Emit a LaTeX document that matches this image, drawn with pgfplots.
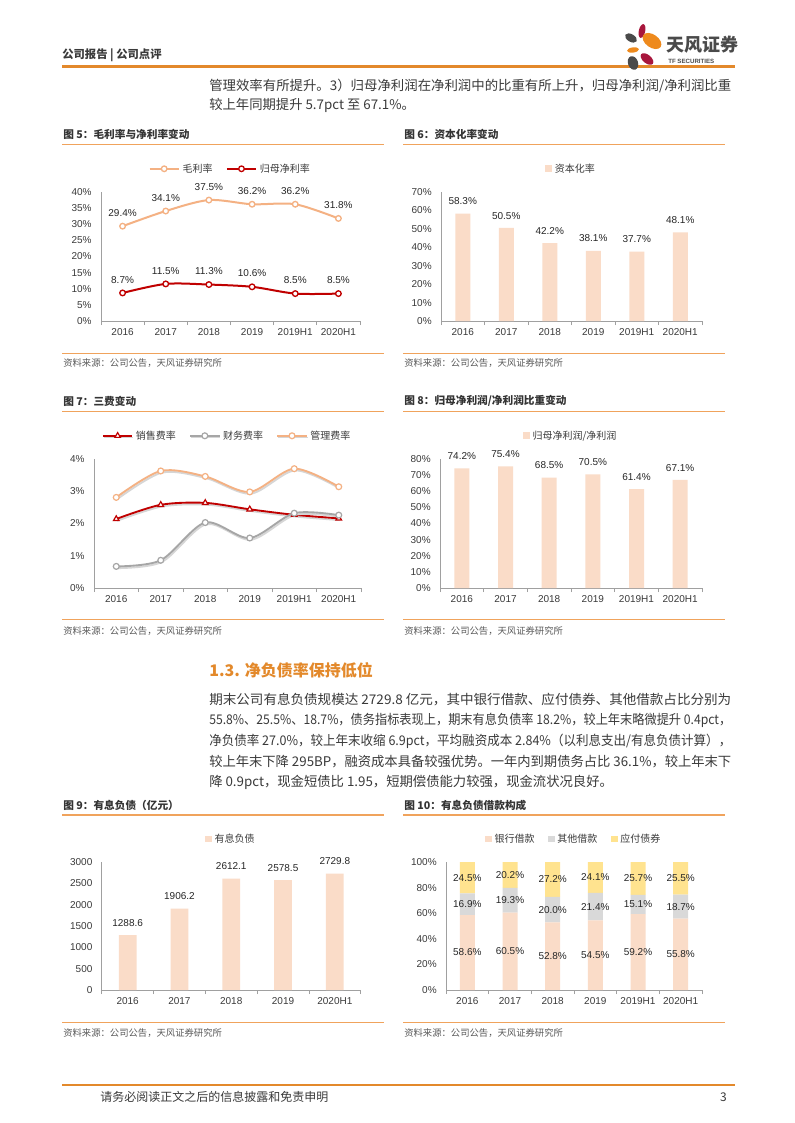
\documentclass[border=0pt]{standalone}
\usepackage{pgfplots}
\pgfplotsset{compat=1.18}
\usepackage{pgfplotstable}
\usepackage{graphicx}
\usepackage{fontspec}
\setmainfont{Noto Sans CJK SC}
\newfontfamily\arial{Liberation Sans}
\XeTeXlinebreaklocale "zh"
\XeTeXlinebreakskip=0pt plus 1pt

\definecolor{tfo}{HTML}{E3892B}
\definecolor{rulec}{HTML}{F0A35C}
\definecolor{peach}{HTML}{FADCC8}
\definecolor{lorange}{HTML}{F4B183}
\definecolor{dred}{HTML}{C00000}
\definecolor{mgray}{HTML}{A6A6A6}
\definecolor{lgray}{HTML}{D9D9D9}
\definecolor{ygold}{HTML}{FFE38F}
\definecolor{body}{HTML}{3A3A3A}
\definecolor{lbl}{HTML}{262626}
\definecolor{src}{HTML}{595959}
\definecolor{axc}{HTML}{A0A0A0}
\definecolor{petred}{HTML}{A8163C}
\definecolor{petgray}{HTML}{4A4A4A}
\definecolor{petor}{HTML}{EE8A1D}

\newcommand\tk{\arial\fontsize{7.5bp}{9bp}\selectfont}
\newcommand\lgf{\fontsize{7.5bp}{9bp}\selectfont}
\newcommand\bodyf{\fontsize{10bp}{12bp}\selectfont}
\newcommand\titf{\bfseries\fontsize{8bp}{10bp}\selectfont}
\newcommand\srcf{\fontsize{7bp}{8bp}\selectfont}

\newlength\jl
\newcommand\jline[1]{\settowidth\jl{#1}\edef\jsc{\fpeval{391.5bp/\jl}}\scalebox{\jsc}[1]{#1}}

\pgfplotsset{
  tfax/.style={
    scale only axis, clip=false,
    axis x line*=bottom, axis y line*=left,
    axis line style={draw=axc, line width=0.6bp, -},
    ymin=0, major tick length=0pt,
    tick label style={font=\tk, text=body},
    /pgf/number format/assume math mode=true,
    x tick label style={yshift=-2bp},
    y tick label style={xshift=-3.5bp},
    legend style={draw=none, fill=none, font=\lgf, text=body,
      legend columns=-1, at={(0.5,1.18)}, anchor=center,
      /tikz/every even column/.append style={column sep=8bp}},
  },
  seps/.style={extra x ticks={#1}, extra x tick labels={},
    extra x tick style={major tick length=3bp, tick align=outside,
      tick style={draw=axc, line width=0.6bp}}},
  sqlegend/.style={legend image code/.code={\fill[##1] (0bp,-2.6bp) rectangle (5.2bp,2.6bp);}},
  lnlegend/.style={legend image code/.code={\draw[mark repeat=2,mark phase=2,##1] plot coordinates {(0bp,0bp)(11bp,0bp)(22bp,0bp)};}},
  pctlabels/.style={nodes near coords={\pgfmathprintnumber[fixed,fixed zerofill,precision=1]{\pgfplotspointmeta}\%},
    every node near coord/.append style={font=\tk, text=lbl, yshift=#1}},
  shadowed/.style={preaction={draw=black!16, line width=1.4bp, transform canvas={shift={(0.7bp,-1.3bp)}}}},
}

\pgfplotstableread{
x bank other bond
0 58.6 16.9 24.5
1 60.5 19.3 20.2
2 52.8 20.0 27.2
3 54.5 21.4 24.1
4 59.2 15.1 25.7
5 55.8 18.7 25.5
}\tabten

\begin{document}
\begin{tikzpicture}[x=0.75bp,y=-0.75bp]
\useasboundingbox (0,0) rectangle (794,1123);
\fill[white] (0,0) rectangle (794,1123);

% ---- header
\node[anchor=west,inner sep=0,text=body,font=\bfseries\fontsize{8.5bp}{10bp}\selectfont] at (62,55) {公司报告 | 公司点评};
\draw[tfo,line width=1.6bp] (62,66.5) -- (735,66.5);
% logo
\fill[petred,rotate around={-12:(642,31)}] (642,31) ellipse [x radius=3.2,y radius=7];
\fill[petgray,rotate around={-30:(631,38)}] (631,38) ellipse [x radius=6.5,y radius=3.8];
\fill[petor,rotate around={-35:(652,41)}] (652,41) ellipse [x radius=10.5,y radius=6.5];
\fill[petor,rotate around={8:(633,50)}] (633,50) ellipse [x radius=6,y radius=2.6];
\fill[petred,rotate around={-40:(647,59)}] (647,59) ellipse [x radius=7.5,y radius=4.2];
\fill[petgray,rotate around={20:(633,63)}] (633,63) ellipse [x radius=5,y radius=7];
\node[anchor=west,inner sep=0,text=petgray,font=\bfseries\fontsize{13.5bp}{15bp}\selectfont] at (666,45) {天风证券};
\node[anchor=west,inner sep=0,text=petgray,font=\arial\bfseries\fontsize{4.6bp}{5bp}\selectfont] at (668,61) {TF SECURITIES};

% ---- top paragraph
\node[anchor=west,inner sep=0,text=body,font=\bodyf] at (209,86) {\jline{管理效率有所提升。3）归母净利润在净利润中的比重有所上升，归母净利润/净利润比重}};
\node[anchor=west,inner sep=0,text=body,font=\bodyf] at (209,105) {较上年同期提升 5.7pct 至 67.1\%。};

% ---- figure titles, rules, sources
\foreach \xa/\xb/\yt/\yr/\yb/\ys/\tt in {
  62/384/134/144.5/353.5/363/{图 5：毛利率与净利率变动},
  403/725/134/144.5/353.5/363/{图 6：资本化率变动},
  62/384/401/411.5/619.5/631/{图 7：三费变动},
  403/725/401/411.5/619.5/631/{图 8：归母净利润/净利润比重变动},
  62/384/805/815/1022.5/1033/{图 9：有息负债（亿元）},
  403/725/805/815/1022.5/1033/{图 10：有息负债借款构成}}{
  \node[anchor=west,inner sep=0,text=body!90!black,font=\titf] at (\xa+1,\yt) {\tt};
  \draw[rulec,line width=0.8bp] (\xa,\yr) -- (\xb,\yr);
  \draw[rulec,line width=0.8bp] (\xa,\yb) -- (\xb,\yb);
  \node[anchor=west,inner sep=0,text=src,font=\srcf] at (\xa+1,\ys) {资料来源：公司公告，天风证券研究所};
}

% ---- section heading and paragraph
\node[anchor=west,inner sep=0,text=tfo,font=\bfseries\fontsize{12bp}{14bp}\selectfont] at (209,670) {1.3. 净负债率保持低位};
\node[anchor=west,inner sep=0,text=body,font=\bodyf] at (209,700) {\jline{期末公司有息负债规模达 2729.8 亿元，其中银行借款、应付债券、其他借款占比分别为}};
\node[anchor=west,inner sep=0,text=body,font=\bodyf] at (209,720.5) {\jline{55.8\%、25.5\%、18.7\%，债务指标表现上，期末有息负债率 18.2\%，较上年末略微提升 0.4pct，}};
\node[anchor=west,inner sep=0,text=body,font=\bodyf] at (209,741) {\jline{净负债率 27.0\%，较上年末收缩 6.9pct，平均融资成本 2.84\%（以利息支出/有息负债计算），}};
\node[anchor=west,inner sep=0,text=body,font=\bodyf] at (209,761.5) {\jline{较上年末下降 295BP，融资成本具备较强优势。一年内到期债务占比 36.1\%，较上年末下}};
\node[anchor=west,inner sep=0,text=body,font=\bodyf] at (209,782) {降 0.9pct，现金短债比 1.95，短期偿债能力较强，现金流状况良好。};

% ---- footer
\draw[tfo,line width=1.6bp] (62,1085) -- (735,1085);
\node[anchor=west,inner sep=0,text=body,font=\fontsize{9bp}{11bp}\selectfont] at (100,1097) {请务必阅读正文之后的信息披露和免责申明};
\node[anchor=east,inner sep=0,text=body,font=\fontsize{9bp}{11bp}\selectfont] at (727,1097) {3};

% ---- chart 5
\begin{axis}[tfax, at={(75.75bp,-240.75bp)}, anchor=south west,
  width=194.25bp, height=96.75bp,
  xmin=-0.5, xmax=5.5, ymax=40, ytick={0,5,...,40},
  yticklabel={\pgfmathprintnumber{\tick}\%},
  xtick={0,...,5}, xticklabels={2016,2017,2018,2019,2019H1,2020H1},
  seps={-0.5,0.5,...,5.5}, lnlegend, pctlabels=3.5bp]
\addplot[lorange, line width=1.5bp, smooth, mark=*, mark size=2.1bp,
  mark options={fill=white, line width=1bp}]
  coordinates {(0,29.4)(1,34.1)(2,37.5)(3,36.2)(4,36.2)(5,31.8)};
\addlegendentry{毛利率}
\addplot[dred, line width=1.5bp, smooth, mark=*, mark size=2.1bp,
  mark options={fill=white, line width=1bp}]
  coordinates {(0,8.7)(1,11.5)(2,11.3)(3,10.6)(4,8.5)(5,8.5)};
\addlegendentry{归母净利率}
\end{axis}

% ---- chart 6
\begin{axis}[tfax, ybar, bar width=11.25bp, at={(330.75bp,-240.75bp)}, anchor=south west,
  width=195.75bp, height=96.75bp,
  xmin=-0.5, xmax=5.5, ymax=70, ytick={0,10,...,70},
  yticklabel={\pgfmathprintnumber{\tick}\%},
  xtick={0,...,5}, xticklabels={2016,2017,2018,2019,2019H1,2020H1},
  seps={-0.5,0.5,...,5.5}, pctlabels=3bp]
\addplot[fill=peach, draw=none, sqlegend]
  coordinates {(0,58.3)(1,50.5)(2,42.2)(3,38.1)(4,37.7)(5,48.1)};
\addlegendentry{资本化率}
\end{axis}

% ---- chart 7
\begin{axis}[tfax, at={(70.5bp,-441bp)}, anchor=south west,
  width=200.25bp, height=96.75bp,
  xmin=-0.5, xmax=5.5, ymax=4, ytick={0,1,...,4},
  yticklabel={\pgfmathprintnumber{\tick}\%},
  xtick={0,...,5}, xticklabels={2016,2017,2018,2019,2019H1,2020H1},
  seps={-0.5,0.5,...,5.5}, lnlegend]
\addplot[dred, line width=1.4bp, smooth, shadowed, mark=triangle*, mark size=2.4bp,
  mark options={fill=white, line width=0.9bp}]
  coordinates {(0,2.14)(1,2.58)(2,2.64)(3,2.44)(4,2.27)(5,2.16)};
\addlegendentry{销售费率}
\addplot[mgray, line width=1.4bp, smooth, shadowed, mark=*, mark size=2.2bp,
  mark options={fill=white, line width=0.9bp}]
  coordinates {(0,0.67)(1,0.86)(2,2.03)(3,1.55)(4,2.32)(5,2.26)};
\addlegendentry{财务费率}
\addplot[lorange, line width=1.4bp, smooth, shadowed, mark=*, mark size=2.2bp,
  mark options={fill=white, line width=0.9bp}]
  coordinates {(0,2.81)(1,3.63)(2,3.46)(3,2.98)(4,3.70)(5,3.14)};
\addlegendentry{管理费率}
\end{axis}

% ---- chart 8
\begin{axis}[tfax, ybar, bar width=11.25bp, at={(330bp,-441bp)}, anchor=south west,
  width=196.5bp, height=96.75bp,
  xmin=-0.5, xmax=5.5, ymax=80, ytick={0,10,...,80},
  yticklabel={\pgfmathprintnumber{\tick}\%},
  xtick={0,...,5}, xticklabels={2016,2017,2018,2019,2019H1,2020H1},
  seps={-0.5,0.5,...,5.5}, pctlabels=3bp]
\addplot[fill=peach, draw=none, sqlegend]
  coordinates {(0,74.2)(1,75.4)(2,68.5)(3,70.5)(4,61.4)(5,67.1)};
\addlegendentry{归母净利润/净利润}
\end{axis}

% ---- chart 9
\begin{axis}[tfax, ybar, bar width=13.3bp, at={(76.3bp,-742.5bp)}, anchor=south west,
  width=194.25bp, height=96bp,
  xmin=-0.5, xmax=4.5, ymax=3000, ytick={0,500,...,3000},
  scaled y ticks=false, /pgf/number format/1000 sep={},
  xtick={0,...,4}, xticklabels={2016,2017,2018,2019,2020H1},
  seps={-0.5,0.5,...,4.5},
  nodes near coords={\pgfmathprintnumber[fixed,fixed zerofill,precision=1,1000 sep={}]{\pgfplotspointmeta}},
  every node near coord/.append style={font=\tk, text=lbl, yshift=3bp}]
\addplot[fill=peach, draw=none, sqlegend]
  coordinates {(0,1288.6)(1,1906.2)(2,2612.1)(3,2578.5)(4,2729.8)};
\addlegendentry{有息负债}
\end{axis}

% ---- chart 10
\begin{axis}[tfax, ybar stacked, bar width=11.25bp, at={(334.5bp,-742.5bp)}, anchor=south west,
  width=192bp, height=96bp,
  xmin=-0.5, xmax=5.5, ymax=100, ytick={0,20,...,100},
  yticklabel={\pgfmathprintnumber{\tick}\%},
  xtick={0,...,5}, xticklabels={2016,2017,2018,2019,2019H1,2020H1},
  seps={-0.5,0.5,...,5.5}]
\addplot[fill=peach, draw=none, sqlegend] table[x=x,y=bank]{\tabten};
\addlegendentry{银行借款}
\addplot[fill=lgray, draw=none, sqlegend] table[x=x,y=other]{\tabten};
\addlegendentry{其他借款}
\addplot[fill=ygold, draw=none, sqlegend] table[x=x,y=bond]{\tabten};
\addlegendentry{应付债券}
\end{axis}
\begin{axis}[at={(334.5bp,-742.5bp)}, anchor=south west, scale only axis,
  width=192bp, height=96bp, xmin=-0.5, xmax=5.5, ymin=0, ymax=100,
  hide axis, clip=false,
  /pgf/number format/assume math mode=true,
  nodes near coords={\pgfmathprintnumber[fixed,fixed zerofill,precision=1]{\pgfplotspointmeta}\%},
  every node near coord/.append style={font=\tk, text=lbl, anchor=center}]
\addplot[draw=none, mark=none, point meta=explicit] table[x=x, y expr=\thisrow{bank}/2, meta=bank]{\tabten};
\addplot[draw=none, mark=none, point meta=explicit] table[x=x, y expr=\thisrow{bank}+\thisrow{other}/2, meta=other]{\tabten};
\addplot[draw=none, mark=none, point meta=explicit] table[x=x, y expr=100-\thisrow{bond}/2, meta=bond]{\tabten};
\end{axis}

\end{tikzpicture}
\end{document}
